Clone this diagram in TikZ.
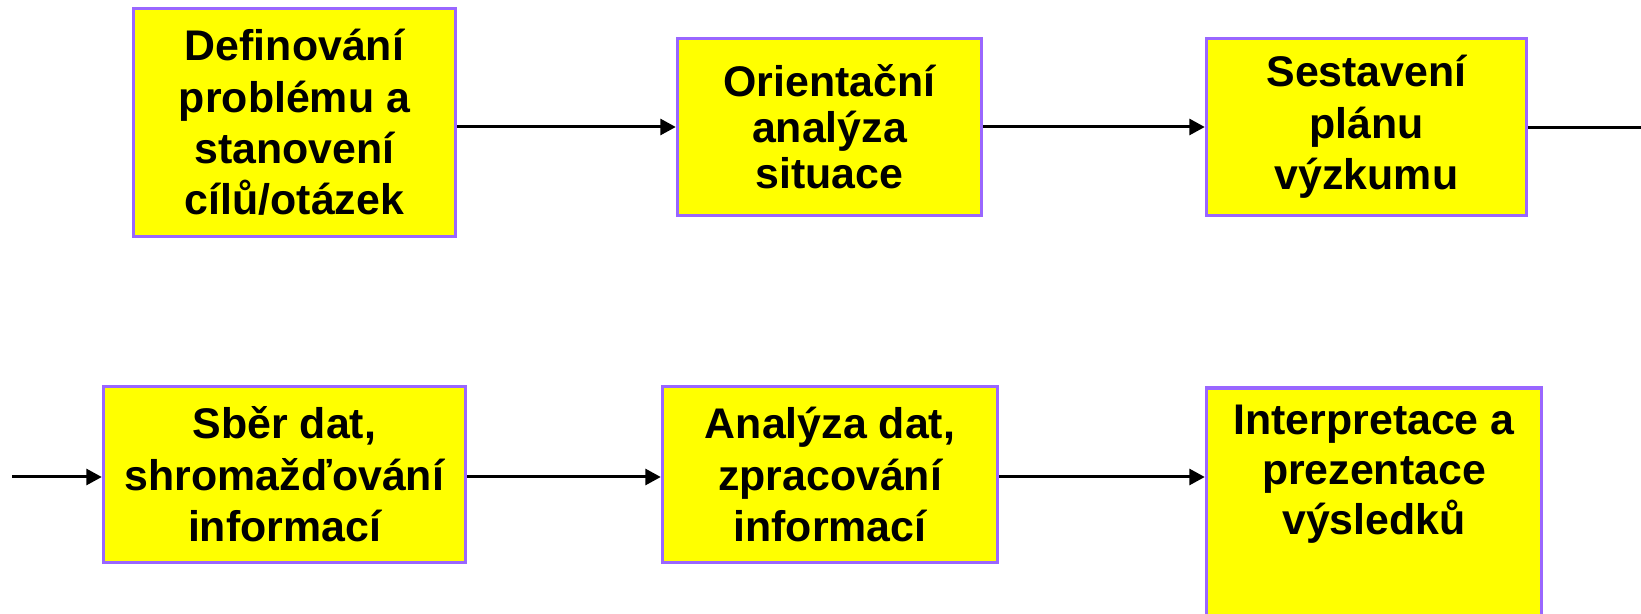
\documentclass[tikz,border=0pt]{standalone}
\usepackage{fontspec}
\setmainfont{Liberation Sans}
\usepackage{tikz}
\usetikzlibrary{positioning, arrows.meta}
\definecolor{boxyellow}{HTML}{FFFF00}
\definecolor{boxviolet}{HTML}{9966FF}

\begin{document}
\begin{tikzpicture}[x=0.02cm, y=-0.02cm,
                stepbox/.style={draw=boxviolet, line width=0.07cm, fill=boxyellow, rectangle, align=center, inner sep=0pt, font=\fontsize{24.4}{29.2}\selectfont\bfseries},
                steptext/.style={align=center, inner sep=0pt, font=\fontsize{24.4}{28.6}\selectfont\bfseries},
                edge/.style={line width=0.06cm, -{Triangle[length=0.31cm, width=0.32cm]}},
                plainedge/.style={line width=0.06cm}
            ]
            \useasboundingbox (0,0) rectangle (1641,614);

            % Uzly - horni rada
            \node[stepbox, minimum width=6.44cm, minimum height=4.56cm] (def) at (294.5,122.5) {Definování\\problému a\\stanovení\\cílů/otázek};
            \node[stepbox, minimum width=6.08cm, minimum height=3.54cm, font=\fontsize{24.4}{26.3}\selectfont\bfseries] (orient) at (829.5,127) {Orientační\\analýza\\situace};
            \node[stepbox, minimum width=6.4cm, minimum height=3.54cm] (plan) at (1366.5,127) {Sestavení\\plánu\\výzkumu};

            % Uzly - dolni rada
            \node[stepbox, minimum width=7.24cm, minimum height=3.52cm] (sber) at (284.5,474.5) {Sběr dat,\\shromažďování\\informací};
            \node[stepbox, minimum width=6.7cm, minimum height=3.52cm] (analyza) at (830,474.5) {Analýza dat,\\zpracování\\informací};
            \node[stepbox, minimum width=6.7cm, minimum height=5.2cm, anchor=north] (interp) at (1374,386.5) {};
            \node[steptext, below=0.36cm of interp.north] (interptext) {Interpretace a\\prezentace\\výsledků};

            % volne konce car
            \coordinate (outR) at (1641,128);
            \coordinate (inL) at (12,477);

            % Hrany
            \draw[edge] (def.east |- orient) -- (orient.west);
            \draw[edge] (orient.east) -- (plan.west);
            \draw[plainedge] (plan.east |- outR) -- (outR);
            \draw[edge] (inL) -- (inL -| sber.west);
            \draw[edge] (sber.east |- inL) -- (analyza.west |- inL);
            \draw[edge] (analyza.east |- inL) -- (interp.west |- inL);

        \end{tikzpicture}
\end{document}
